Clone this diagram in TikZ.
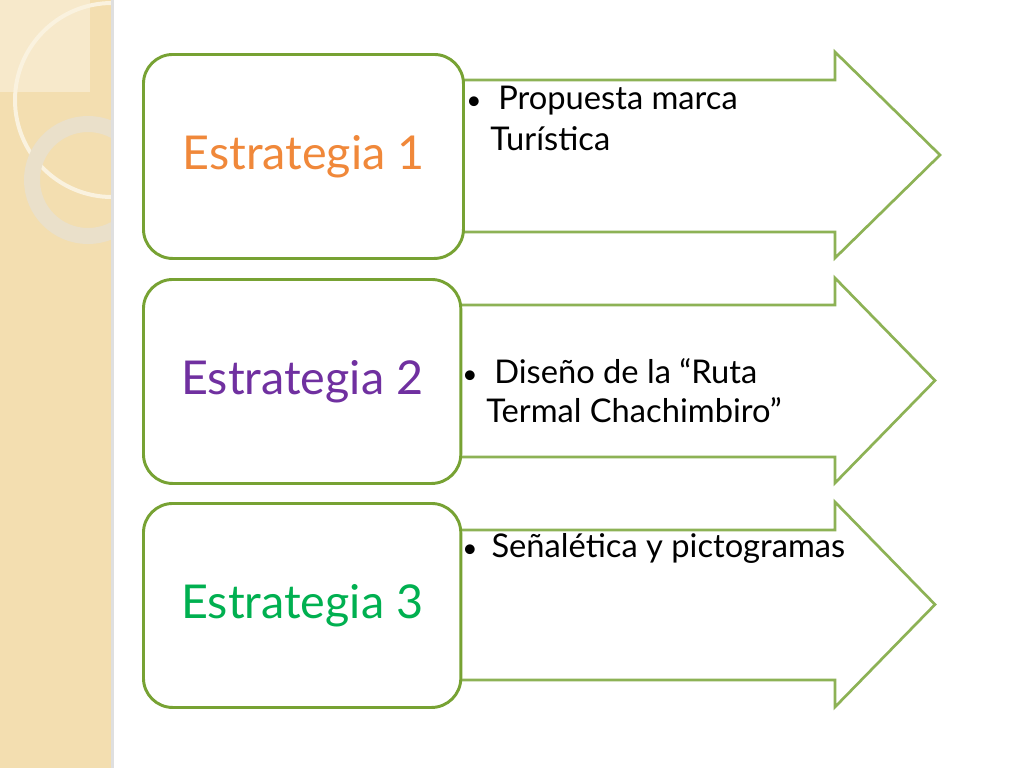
\documentclass[tikz,border=0pt]{standalone}
\usepackage{fontspec}
\setmainfont{Lato}
\begin{document}
\begin{tikzpicture}[x=0.75pt,y=-0.75pt,
  arr/.style={draw=arrgreen,line width=2pt,fill=white,line join=miter},
  sbox/.style={draw=boxgreen,line width=2.2pt,fill=white,rounded corners=22pt},
  big/.style={font=\fontsize{35}{40}\selectfont,anchor=center},
  btxt/.style={font=\fontsize{24.5}{29}\selectfont,anchor=west,inner sep=0pt}]
\definecolor{arrgreen}{HTML}{8DB255}
\definecolor{boxgreen}{HTML}{77A233}
\definecolor{strip}{HTML}{F3DEB0}
\useasboundingbox (0,0) rectangle (1024,768);
\fill[white] (0,0) rectangle (1024,768);
\fill[strip] (0,0) rectangle (113,768);
\begin{scope}
\clip (0,0) rectangle (113,768);
\fill[white,opacity=0.35] (0,0) rectangle (90,92);
\draw[strip!40!white,line width=3pt] (112,100) circle (97);
\draw[gray!20!strip!60!white,line width=12pt] (88,180) circle (56);
\end{scope}
\fill[gray!25] (111,0) rectangle (114,768);
% arrows
\foreach \yt/\yb/\ht/\hb/\tip [count=\i] in {80/232/52/258/940, 305/457/278/483/935, 530/680/502/707/935}{
  \draw[arr] (440,\yt) -- (835,\yt) -- (835,\ht) -- (\tip,{(\ht+\hb)/2}) -- (835,\hb) -- (835,\yb) -- (440,\yb);
}
\node[sbox,minimum width=240pt,minimum height=153pt,anchor=north west] (b1) at (142,53) {};
\node[sbox,minimum width=238pt,minimum height=153pt,anchor=north west] (b2) at (142,278) {};
\node[sbox,minimum width=238pt,minimum height=153pt,anchor=north west] (b3) at (142,502) {};
\node[big,text={rgb,255:red,240;green,136;blue,58}] (t1) at (b1.center) {Estrategia 1};
\node[big,text={rgb,255:red,112;green,48;blue,160}] (t2) at (b2.center) {Estrategia 2};
\node[big,text={rgb,255:red,0;green,176;blue,80}] (t3) at (b3.center) {Estrategia 3};
\node[btxt] (p1a) at (466,101) {\makebox[24pt][l]{\scalebox{0.8}{•}}Propuesta marca};
\node[btxt] (p1b) at (490,139) {Turística};
\node[btxt] (p2a) at (462,371) {\makebox[24pt][l]{\scalebox{0.8}{•}}Diseño de la “Ruta};
\node[btxt] (p2b) at (486,410) {Termal Chachimbiro”};
\node[btxt] (p3) at (462,548) {\makebox[22pt][l]{\scalebox{0.8}{•}}Señalética y pictogramas};
\end{tikzpicture}
\end{document}
